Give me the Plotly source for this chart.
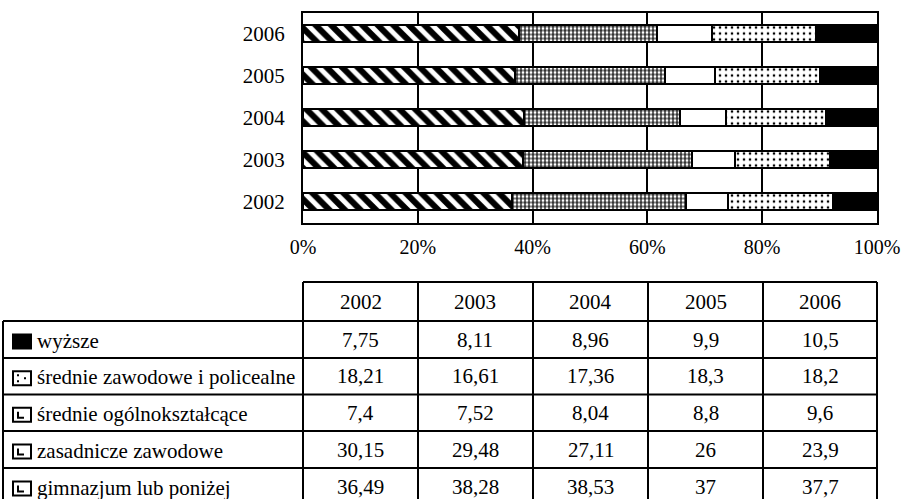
import plotly.graph_objects as go

# ---------------- data ----------------
years = ["2002", "2003", "2004", "2005", "2006"]
wyzsze = [7.75, 8.11, 8.96, 9.9, 10.5]
srednie_zawodowe = [18.21, 16.61, 17.36, 18.3, 18.2]
srednie_ogolno = [7.4, 7.52, 8.04, 8.8, 9.6]
zasadnicze = [30.15, 29.48, 27.11, 26, 23.9]
gimnazjum = [36.49, 38.28, 38.53, 37, 37.7]

labels = {
    "wyzsze": "wyższe",
    "srednie_zawodowe": "średnie zawodowe i policealne",
    "srednie_ogolno": "średnie ogólnokształcące",
    "zasadnicze": "zasadnicze zawodowe",
    "gimnazjum": "gimnazjum lub poniżej",
}
x_ticks = [0, 20, 40, 60, 80, 100]

W, H = 906, 499
FONT = "Liberation Serif"
FS = 20
FT = 21


def X(px):
    return px / W


def Y(py):
    return 1 - py / H


fig = go.Figure()

line = dict(color="black", width=2)
series = [
    ("gimnazjum", gimnazjum, dict(color="white", line=line,
                                   pattern=dict(shape="\\", fgcolor="black", bgcolor="white", size=11, solidity=0.55))),
    ("zasadnicze", zasadnicze, dict(color="white", line=line,
                                     pattern=dict(shape="+", fgcolor="black", bgcolor="white", size=4, solidity=0.5))),
    ("srednie_ogolno", srednie_ogolno, dict(color="white", line=line)),
    ("srednie_zawodowe", srednie_zawodowe, dict(color="white", line=line,
                                                 pattern=dict(shape=".", fgcolor="black", bgcolor="white", size=6, solidity=0.15))),
    ("wyzsze", wyzsze, dict(color="black", line=line)),
]
for key, vals, marker in series:
    fig.add_trace(go.Bar(
        y=years, x=vals, orientation="h", name=labels[key],
        marker=marker, width=0.4, showlegend=False,
    ))

fig.update_layout(
    template="none",
    width=W, height=H, autosize=False,
    margin=dict(l=0, r=0, t=0, b=0, pad=0, autoexpand=False),
    paper_bgcolor="white", plot_bgcolor="white",
    barmode="stack",
    font=dict(family=FONT, size=FS, color="black"),
    xaxis=dict(
        domain=[X(303), X(877)], range=[0, 100], automargin=False,
        tickvals=x_ticks, ticktext=[f"{t}%" for t in x_ticks],
        showgrid=True, gridcolor="black", gridwidth=2,
        showline=True, linecolor="black", linewidth=2, mirror=True,
        ticks="", zeroline=False, ticklabelstandoff=5,
        tickfont=dict(family=FONT, size=FS),
    ),
    yaxis=dict(
        domain=[Y(222.5), Y(12.5)], automargin=False,
        categoryorder="array", categoryarray=years,
        showline=True, linecolor="black", linewidth=2, mirror=True,
        showgrid=False, zeroline=False,
        ticks="", ticklabelstandoff=12,
        tickfont=dict(family=FONT, size=FT),
    ),
)

# ---------------- table ----------------
col_edges = [303, 418, 533, 648, 763, 877]
row_edges = [321, 358, 394.5, 431, 468, 505]
header_top = 282
left_edge = 3
lw = 2

shapes = []
shapes.append(dict(type="line", xref="paper", yref="paper",
                   x0=X(col_edges[0]), x1=X(col_edges[-1]), y0=Y(header_top), y1=Y(header_top),
                   line=dict(color="black", width=lw)))
for ry in row_edges:
    shapes.append(dict(type="line", xref="paper", yref="paper",
                       x0=X(left_edge), x1=X(col_edges[-1]), y0=Y(ry), y1=Y(ry),
                       line=dict(color="black", width=lw)))
shapes.append(dict(type="line", xref="paper", yref="paper",
                   x0=X(left_edge), x1=X(left_edge), y0=Y(row_edges[0]), y1=Y(row_edges[-1]),
                   line=dict(color="black", width=lw)))
for cx in col_edges:
    shapes.append(dict(type="line", xref="paper", yref="paper",
                       x0=X(cx), x1=X(cx), y0=Y(header_top), y1=Y(row_edges[-1]),
                       line=dict(color="black", width=lw)))

annotations = []
for i, yr in enumerate(years):
    cx = (col_edges[i] + col_edges[i + 1]) / 2
    annotations.append(dict(x=X(cx), y=Y((header_top + row_edges[0]) / 2), xref="paper", yref="paper",
                            text=yr, showarrow=False, xanchor="center", yanchor="middle",
                            font=dict(family=FONT, size=FT)))

table_rows = [
    ("wyzsze", wyzsze),
    ("srednie_zawodowe", srednie_zawodowe),
    ("srednie_ogolno", srednie_ogolno),
    ("zasadnicze", zasadnicze),
    ("gimnazjum", gimnazjum),
]


def fmt(v):
    return f"{v:g}".replace(".", ",")


for r, (key, vals) in enumerate(table_rows):
    cy = (row_edges[r] + row_edges[r + 1]) / 2
    fill = "black" if key == "wyzsze" else "white"
    ix0, ix1, iy0, iy1 = 13, 31, cy - 5, cy + 9
    shapes.append(dict(type="rect", xref="paper", yref="paper",
                       x0=X(ix0), x1=X(ix1), y0=Y(iy0), y1=Y(iy1),
                       fillcolor=fill, line=dict(color="black", width=2)))
    if key == "srednie_zawodowe":
        for dx, dy in [(5, 4), (12, 7), (5, 10)]:
            shapes.append(dict(type="rect", xref="paper", yref="paper",
                               x0=X(ix0 + dx - 1), x1=X(ix0 + dx + 1),
                               y0=Y(iy0 + dy - 1), y1=Y(iy0 + dy + 1),
                               fillcolor="black", line=dict(width=0)))
    elif key != "wyzsze":
        shapes.append(dict(type="path", xref="paper", yref="paper",
                           path=f"M {X(ix0 + 5)},{Y(iy0 + 4)} L {X(ix0 + 5)},{Y(iy0 + 10)} L {X(ix0 + 11)},{Y(iy0 + 10)}",
                           line=dict(color="black", width=2)))
    annotations.append(dict(x=X(35), y=Y(cy + 1), xref="paper", yref="paper",
                            text=labels[key], showarrow=False, xanchor="left", yanchor="middle",
                            font=dict(family=FONT, size=FT)))
    for i, v in enumerate(vals):
        cx = (col_edges[i] + col_edges[i + 1]) / 2
        annotations.append(dict(x=X(cx), y=Y(cy), xref="paper", yref="paper",
                                text=fmt(v), showarrow=False, xanchor="center", yanchor="middle",
                                font=dict(family=FONT, size=FT)))

fig.update_layout(shapes=shapes, annotations=annotations)
fig.write_html("out.html", config={"displayModeBar": False},
               post_script="document.body.style.margin='0';")
